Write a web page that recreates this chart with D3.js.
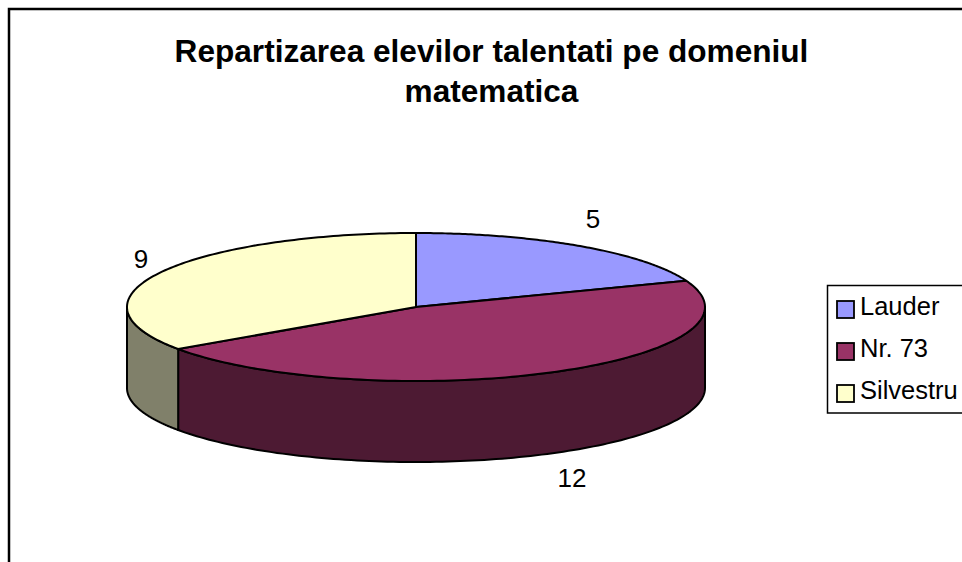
<!DOCTYPE html>
<html><head><meta charset="utf-8">
<script src="https://cdn.jsdelivr.net/npm/d3@7/dist/d3.min.js"></script>
<style>html,body{margin:0;padding:0;background:#fff}svg{display:block}text{font-family:"Liberation Sans",Arial,sans-serif;fill:#000}</style>
</head><body><svg id="c" width="962" height="562"></svg>
<script>
const categories = ["Lauder", "Nr. 73", "Silvestru"];
const values = [5, 12, 9];
const topColors = ["#9999ff", "#993366", "#ffffcc"];
const sideColors = ["#4d4d80", "#4d1a33", "#80806a"];
const titleLines = ["Repartizarea elevilor talentati pe domeniul", "matematica"];
const labelPos = [[593, 228], [572, 487], [141, 268]];

const svg = d3.select("#c");
const cx = 416, cy = 307, rx = 289, ry = 74, depth = 81;
const X = d3.scaleLinear().domain([-1, 1]).range([cx - rx, cx + rx]);
const Y = d3.scaleLinear().domain([-1, 1]).range([cy - ry, cy + ry]);
const pie = d3.pie().sort(null).value(d => d);
const arcs = pie(values);
const pt = a => [X(Math.sin(a)), Y(-Math.cos(a))];
const samples = (a0, a1) => d3.range(0, 121).map(i => pt(a0 + (a1 - a0) * i / 120));
const line = d3.line();

// frame
svg.append("path").attr("d", "M9,562V9H962").attr("fill", "none").attr("stroke", "#000").attr("stroke-width", 2.5);

// side walls (front half only)
arcs.forEach((d, i) => {
  const a0 = Math.max(d.startAngle, Math.PI / 2), a1 = Math.min(d.endAngle, 3 * Math.PI / 2);
  if (a1 <= a0) return;
  const t = samples(a0, a1);
  const b = t.slice().reverse().map(p => [p[0], p[1] + depth]);
  svg.append("path").attr("d", line(t.concat(b)) + "Z")
    .attr("fill", sideColors[i]).attr("stroke", "#000").attr("stroke-width", 2).attr("stroke-linejoin", "round");
});
// top slices
arcs.forEach((d, i) => {
  svg.append("path").attr("d", line([[cx, cy]].concat(samples(d.startAngle, d.endAngle))) + "Z")
    .attr("fill", topColors[i]).attr("stroke", "#000").attr("stroke-width", 2).attr("stroke-linejoin", "round");
});
// value labels
values.forEach((v, i) => {
  svg.append("text").attr("x", labelPos[i][0]).attr("y", labelPos[i][1]).attr("text-anchor", "middle")
    .attr("font-size", 26).text(v);
});
// title
titleLines.forEach((t, i) => {
  svg.append("text").attr("x", 491.5).attr("y", 61.5 + i * 40).attr("text-anchor", "middle")
    .attr("font-size", 31.6).attr("font-weight", "bold").text(t);
});
// legend
svg.append("path").attr("d", "M962,285.5H827.5V413H962").attr("fill", "#fff").attr("stroke", "#000").attr("stroke-width", 1.5);
const ly = d3.scalePoint().domain(categories).range([309, 393]);
categories.forEach((c, i) => {
  const y = ly(c);
  svg.append("rect").attr("x", 837).attr("y", y - 8).attr("width", 17).attr("height", 17)
    .attr("fill", topColors[i]).attr("stroke", "#000").attr("stroke-width", 1.8);
  svg.append("text").attr("x", 860).attr("y", y + 6).attr("font-size", 25.5).text(c);
});
</script></body></html>
